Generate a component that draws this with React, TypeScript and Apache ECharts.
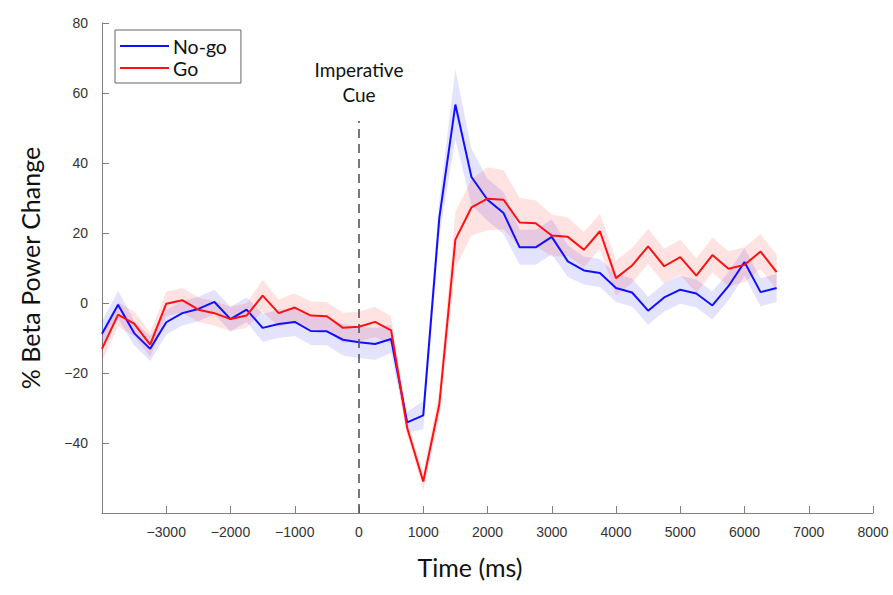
import React, { useEffect, useRef } from "react";
import * as echarts from "echarts";

// time (ms), one sample every 250 ms
const times = [
  -4000, -3750, -3500, -3250, -3000, -2750, -2500, -2250, -2000, -1750, -1500,
  -1250, -1000, -750, -500, -250, 0, 250, 500, 750, 1000, 1250, 1500, 1750,
  2000, 2250, 2500, 2750, 3000, 3250, 3500, 3750, 4000, 4250, 4500, 4750, 5000,
  5250, 5500, 5750, 6000, 6250, 6500,
];

// % beta power change, No-go (blue)
const noGo = [
  -8.8, -0.5, -8.6, -13.1, -5.5, -2.9, -1.7, 0.3, -4.6, -1.9, -7.1, -6.0, -5.4,
  -8.0, -8.1, -10.5, -11.2, -11.7, -10.3, -34.1, -32.1, 24.3, 56.7, 36.0, 29.5,
  25.7, 15.9, 15.9, 18.9, 11.9, 9.3, 8.6, 4.3, 3.0, -2.2, 1.6, 3.8, 2.7, -0.7,
  4.8, 11.7, 3.1, 4.3,
];
// standard error band half-width, No-go
const noGoErr = [
  3.5, 4, 3.5, 3.5, 3.5, 3.5, 3.5, 3.5, 3.5, 3.5, 4, 4, 4, 4, 4, 4.5, 4.5, 4.5,
  4, 3, 4, 5, 10, 8, 6, 6, 5, 5, 5, 4.5, 4, 4, 4, 4, 4, 4, 4, 4, 4, 4, 4, 4, 4,
];

// % beta power change, Go (red)
const go = [
  -13.1, -3.3, -5.9, -11.9, -0.2, 0.8, -1.9, -2.9, -4.6, -3.6, 2.1, -2.9, -1.3,
  -3.6, -3.8, -7.1, -6.8, -5.4, -7.8, -35.7, -51.0, -29.0, 18.1, 27.3, 29.8,
  29.5, 23.0, 22.8, 19.3, 18.9, 15.2, 20.5, 7.1, 10.7, 16.2, 10.5, 13.1, 7.8,
  13.7, 9.8, 10.9, 14.7, 8.8,
];
// standard error band half-width, Go
const goErr = [
  3.5, 3.5, 3.5, 3.5, 3.5, 3.5, 3.5, 3.5, 3.5, 3.5, 4.5, 4, 4, 4, 4, 4.3, 4.3,
  4.3, 4, 2, 2.5, 4, 8, 8, 9, 8.5, 7, 6.5, 6, 5.5, 5, 5, 5, 5, 5, 5, 5, 5, 5,
  5, 5, 5, 5,
];

const SANS = "Lato, 'Noto Sans', sans-serif";
const TICK_FONT = "'Liberation Sans', Arial, sans-serif";

export default function App() {
  const ref = useRef<HTMLDivElement>(null);

  useEffect(() => {
    const chart = echarts.init(ref.current!, null, { renderer: "svg" });
    const pts = (vals: number[]) => times.map((t, i) => [t, vals[i]]);
    const minus = (v: number) => String(v).replace("-", "\u2212");

    // one polygon per band, built through the axis scales (api.coord)
    const bandSeries = (
      name: string,
      mean: number[],
      err: number[],
      color: string,
    ) => ({
      name,
      type: "custom",
      silent: true,
      z: 1,
      data: times.map((t, i) => [t, mean[i] - err[i], mean[i] + err[i]]),
      encode: { x: 0, y: [1, 2] },
      renderItem: (params: any, api: any) => {
        if (params.dataIndex !== 0) return null;
        const upper = times.map((t, i) => api.coord([t, mean[i] + err[i]]));
        const lower = times
          .map((t, i) => api.coord([t, mean[i] - err[i]]))
          .reverse();
        return {
          type: "polygon",
          shape: { points: upper.concat(lower) },
          style: { fill: color, stroke: "none" },
        };
      },
    });

    chart.setOption({
      animation: false,
      backgroundColor: "#ffffff",
      grid: { left: 102, right: 20, top: 23, bottom: 82, containLabel: false },
      legend: {
        data: ["No-go", "Go"],
        orient: "vertical",
        left: 115,
        top: 30,
        icon: "rect",
        itemWidth: 49,
        itemHeight: 2,
        itemGap: 2,
        padding: [6, 14, 5, 5],
        borderColor: "#666",
        borderWidth: 1,
        textStyle: {
          fontFamily: SANS,
          fontSize: 19.5,
          lineHeight: 20,
          color: "#111",
          padding: [0, 0, 0, -1],
        },
      },
      xAxis: {
        type: "value",
        min: -4000,
        max: 8000,
        interval: 1000,
        name: "Time (ms)",
        nameLocation: "middle",
        nameGap: 41,
        nameTextStyle: {
          fontFamily: SANS,
          fontSize: 25,
          color: "#111",
          padding: [0, 35, 0, 0],
        },
        axisLine: { onZero: false, lineStyle: { color: "#808080", width: 1 } },
        axisTick: { inside: true, length: 7, lineStyle: { color: "#808080" } },
        axisLabel: {
          margin: 12,
          fontFamily: TICK_FONT,
          fontSize: 14,
          color: "#333",
          formatter: (v: number) => (v === -4000 ? "" : minus(v)),
        },
        splitLine: { show: false },
      },
      yAxis: {
        type: "value",
        min: -60,
        max: 80,
        interval: 20,
        name: "% Beta Power Change",
        nameLocation: "middle",
        nameGap: 60,
        nameTextStyle: { fontFamily: SANS, fontSize: 25, color: "#111" },
        axisLine: { show: true, onZero: false, lineStyle: { color: "#808080", width: 1 } },
        axisTick: { show: true, inside: true, length: 7, lineStyle: { color: "#808080" } },
        axisLabel: {
          margin: 14,
          fontFamily: TICK_FONT,
          fontSize: 14,
          color: "#333",
          formatter: (v: number) => (v === -60 ? "" : minus(v)),
        },
        splitLine: { show: false },
      },
      series: [
        bandSeries("nogo-band", noGo, noGoErr, "rgba(40,40,240,0.13)"),
        bandSeries("go-band", go, goErr, "rgba(255,30,30,0.13)"),
        {
          name: "No-go",
          type: "line",
          data: pts(noGo),
          color: "#1010ff",
          symbol: "none",
          lineStyle: { color: "#1010ff", width: 2 },
          z: 3,
          markLine: {
            silent: true,
            symbol: "none",
            lineStyle: { color: "#555", type: [9, 6], width: 1.6 },
            label: {
              show: true,
              position: "end",
              formatter: "Imperative\nCue",
              fontFamily: SANS,
              fontSize: 19,
              lineHeight: 25,
              color: "#111",
              distance: 14,
            },
            data: [[{ coord: [0, -60] }, { coord: [0, 52] }]],
          },
        },
        {
          name: "Go",
          type: "line",
          data: pts(go),
          color: "#ff1010",
          symbol: "none",
          lineStyle: { color: "#ff1010", width: 2 },
          z: 4,
        },
      ],
    });
    return () => chart.dispose();
  }, []);

  return (
    <div
      ref={ref}
      style={{
        position: "fixed",
        left: 0,
        top: 0,
        width: 893,
        height: 595,
        background: "#fff",
      }}
    />
  );
}
